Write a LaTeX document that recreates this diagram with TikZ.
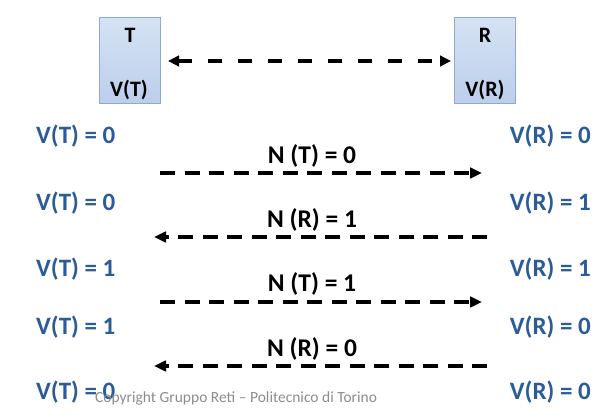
\documentclass[tikz,border=0pt]{standalone}
\usepackage{fontspec}
\setmainfont{Carlito}
\usetikzlibrary{arrows.meta}
\definecolor{valblue}{HTML}{2B5C97}
\definecolor{boxedge}{HTML}{8EAAD2}
\definecolor{boxtop}{HTML}{D6E2F4}
\definecolor{boxbot}{HTML}{BBCEEB}
\tikzset{
  x=1pt,y=-1pt,
  entity/.style={draw=boxedge,line width=1pt,top color=boxtop,bottom color=boxbot,minimum width=61pt,minimum height=86pt,inner sep=0pt},
  boxlbl/.style={font=\fontsize{22}{26}\selectfont\bfseries,text=black,inner sep=0pt},
  val/.style={font=\fontsize{25}{28}\selectfont\bfseries,text=valblue,inner sep=0pt},
  msg/.style={font=\fontsize{25.5}{28}\selectfont\bfseries,text=black,inner sep=0pt},
  dashline/.style={line width=3.8pt,dash pattern=on 15pt off 9.5pt},
  tip/.style={-{Triangle[length=12pt,width=10.5pt]}},
  tips/.style={{Triangle[length=11pt,width=10.5pt]}-{Triangle[length=11pt,width=10.5pt]}}
}
\begin{document}
\begin{tikzpicture}
\useasboundingbox (0,0) rectangle (614,419);
\node[entity] (T) at (129.5,61) {};
\node[entity] (R) at (485,61) {};
\node[boxlbl] (Tl) at (130,35) {T};
\node[boxlbl] (Tv) at (129,90) {V(T)};
\node[boxlbl] (Rl) at (485,35) {R};
\node[boxlbl] (Rv) at (485,90) {V(R)};
\coordinate (a0) at (168,61);
\coordinate (b0) at (451,61);
\draw[dashline,tips,dash pattern=on 14pt off 16pt] (a0) -- (b0);
% value labels
\node[val,anchor=west] (l1) at (36,136) {V(T) = 0};
\node[val,anchor=west] (l2) at (36,203) {V(T) = 0};
\node[val,anchor=west] (l3) at (36,269) {V(T) = 1};
\node[val,anchor=west] (l4) at (36,327) {V(T) = 1};
\node[val,anchor=west] (l5) at (36,392) {V(T) = 0};
\node[val,anchor=east] (r1) at (591,136) {V(R) = 0};
\node[val,anchor=east] (r2) at (591,203) {V(R) = 1};
\node[val,anchor=east] (r3) at (591,269) {V(R) = 1};
\node[val,anchor=east] (r4) at (591,327) {V(R) = 0};
\node[val,anchor=east] (r5) at (591,392) {V(R) = 0};
% messages
\coordinate (m1s) at (160,173); \coordinate (m1e) at (482,173);
\coordinate (m2s) at (487,237); \coordinate (m2e) at (154,237);
\coordinate (m3s) at (160,302); \coordinate (m3e) at (482,302);
\coordinate (m4s) at (487,366); \coordinate (m4e) at (154,366);
\draw[dashline,tip] (m1s) -- (m1e);
\draw[dashline,tip] (m2s) -- (m2e);
\draw[dashline,tip] (m3s) -- (m3e);
\draw[dashline,tip] (m4s) -- (m4e);
\node[msg] (n1) at (312,156) {N (T) = 0};
\node[msg] (n2) at (312,220) {N (R) = 1};
\node[msg] (n3) at (312,284) {N (T) = 1};
\node[msg] (n4) at (312,349) {N (R) = 0};
\node[font=\fontsize{15.5}{17}\selectfont,text=black!45,anchor=west,inner sep=0pt] (cp) at (95,398) {Copyright Gruppo Reti – Politecnico di Torino};
\end{tikzpicture}
\end{document}
